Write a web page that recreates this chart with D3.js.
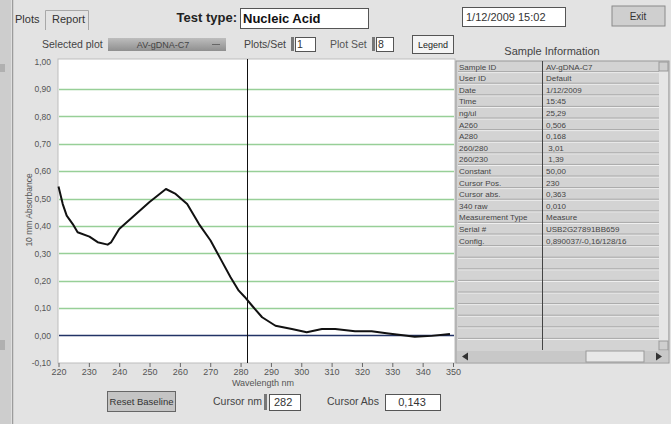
<!DOCTYPE html>
<html>
<head>
<meta charset="utf-8">
<script src="https://cdn.jsdelivr.net/npm/d3@7"></script>
<style>
  body { margin: 0; background: #e3e3e3; }
  svg { display: block; font-family: "Liberation Sans", Arial, sans-serif; }
</style>
</head>
<body>
<svg id="chart" width="671" height="424"></svg>
<script>
// spectrum
const wavelengths = [220, 221.4, 222.7, 224.7, 226.3, 230.2, 232.9, 236.2, 237.3, 240, 245, 249.9, 255.4, 258.6,
  262.4, 266.3, 270.1, 273.4, 276.7, 279.4, 281.3, 283.8, 287.1, 291.5, 296.9, 301.8, 306.8, 311.2, 317.7,
  323.2, 328.7, 334.2, 337.4, 342.9, 349];
const absorbance = [0.544, 0.48, 0.438, 0.407, 0.377, 0.361, 0.341, 0.332, 0.34, 0.389, 0.438, 0.487, 0.535, 0.517,
  0.48, 0.407, 0.347, 0.28, 0.213, 0.164, 0.142, 0.109, 0.067, 0.036, 0.024, 0.012, 0.024, 0.024, 0.016,
  0.016, 0.008, 0.0, -0.004, -0.001, 0.006];
const xTicks = [220, 230, 240, 250, 260, 270, 280, 290, 300, 310, 320, 330, 340, 350];
const yTicks = [-0.1, 0, 0.1, 0.2, 0.3, 0.4, 0.5, 0.6, 0.7, 0.8, 0.9, 1.0];
const cursorNm = 282;
const cursorAbs = "0,143";

const infoLabels = ["Sample ID", "User ID", "Date", "Time", "ng/ul", "A260", "A280", "260/280", "260/230",
  "Constant", "Cursor Pos.", "Cursor abs.", "340 raw", "Measurement Type", "Serial #", "Config."];
const infoValues = ["AV-gDNA-C7", "Default", "1/12/2009", "15:45", "25,29", "0,506", "0,168", " 3,01", " 1,39",
  "50,00", "230", "0,363", "0,010", "Measure", "USB2G27891BB659", "0,890037/-0,16/128/16"];

const svg = d3.select("#chart");
const txt = "#333";

// left strip of the window behind
svg.append("rect").attr("x", 0).attr("y", 0).attr("width", 11).attr("height", 424).attr("fill", "#cdcdcd");
svg.append("line").attr("x1", 11.5).attr("x2", 11.5).attr("y1", 0).attr("y2", 424).attr("stroke", "#f6f6f6");
svg.append("line").attr("x1", 12.5).attr("x2", 12.5).attr("y1", 0).attr("y2", 424).attr("stroke", "#9c9c9c").attr("stroke-width", 1.5);
svg.append("rect").attr("x", 0).attr("y", 64).attr("width", 5).attr("height", 8).attr("fill", "#b0b0b0");
svg.append("rect").attr("x", 0).attr("y", 340).attr("width", 5).attr("height", 10).attr("fill", "#b0b0b0");

// tabs
svg.append("text").attr("x", 15).attr("y", 23).attr("font-size", 11).attr("fill", txt).text("Plots");
svg.append("path").attr("d", "M45.5,30 V10.5 H88.5 V30").attr("fill", "none").attr("stroke", "#a8a8a8");
svg.append("text").attr("x", 52).attr("y", 23).attr("font-size", 11).attr("fill", txt).text("Report");

// header controls
function box(x, y, w, h, fill) {
  svg.append("rect").attr("x", x + 0.5).attr("y", y + 0.5).attr("width", w).attr("height", h)
    .attr("fill", fill || "#fff").attr("stroke", "#555");
}
svg.append("text").attr("x", 237).attr("y", 22).attr("text-anchor", "end").attr("font-size", 13)
  .attr("font-weight", "bold").attr("fill", "#222").text("Test type:");
box(240, 8, 128, 20);
svg.append("text").attr("x", 243).attr("y", 23).attr("font-size", 13).attr("font-weight", "bold").attr("fill", "#111").text("Nucleic Acid");
box(462, 7, 103, 19);
svg.append("text").attr("x", 466).attr("y", 21).attr("font-size", 11).attr("fill", txt).text("1/12/2009  15:02");
svg.append("rect").attr("x", 612).attr("y", 6).attr("width", 53).attr("height", 20).attr("fill", "#cfcfcf")
  .attr("stroke", "#8a8a8a");
svg.append("text").attr("x", 638).attr("y", 20).attr("text-anchor", "middle").attr("font-size", 10).attr("fill", txt).text("Exit");

svg.append("text").attr("x", 42).attr("y", 48).attr("font-size", 10.5).attr("fill", "#444").text("Selected plot");
const defs = svg.append("defs");
const g1 = defs.append("linearGradient").attr("id", "dd").attr("x1", 0).attr("x2", 0).attr("y1", 0).attr("y2", 1);
g1.append("stop").attr("offset", 0).attr("stop-color", "#bdbdbd");
g1.append("stop").attr("offset", 1).attr("stop-color", "#8f8f8f");
svg.append("rect").attr("x", 108).attr("y", 38).attr("width", 118).attr("height", 13).attr("fill", "url(#dd)");
svg.append("text").attr("x", 163).attr("y", 48).attr("text-anchor", "middle").attr("font-size", 9).attr("fill", "#444").text("AV-gDNA-C7");
svg.append("line").attr("x1", 212).attr("x2", 220).attr("y1", 44.5).attr("y2", 44.5).attr("stroke", "#666");

svg.append("text").attr("x", 244).attr("y", 48).attr("font-size", 10.5).attr("fill", "#444").text("Plots/Set");
svg.append("rect").attr("x", 291).attr("y", 37).attr("width", 3).attr("height", 14).attr("fill", "#777");
box(295, 37, 20, 14);
svg.append("text").attr("x", 297).attr("y", 48).attr("font-size", 10.5).attr("fill", txt).text("1");
svg.append("text").attr("x", 330).attr("y", 48).attr("font-size", 10.5).attr("fill", "#555").text("Plot Set");
svg.append("rect").attr("x", 372).attr("y", 37).attr("width", 3).attr("height", 14).attr("fill", "#777");
box(376, 37, 17, 14);
svg.append("text").attr("x", 378).attr("y", 48).attr("font-size", 10.5).attr("fill", txt).text("8");
svg.append("rect").attr("x", 412.5).attr("y", 35.5).attr("width", 41).attr("height", 18).attr("fill", "#f4f4f4").attr("stroke", "#555");
svg.append("text").attr("x", 433).attr("y", 48).attr("text-anchor", "middle").attr("font-size", 9).attr("fill", "#222").text("Legend");

// plot
const x = d3.scaleLinear().domain([220, 350]).range([58.5, 453]);
const y = d3.scaleLinear().domain([-0.1, 1.0]).range([363, 61.6]);

svg.append("rect").attr("x", 58).attr("y", 59).attr("width", 397).attr("height", 304)
  .attr("fill", "#fff").attr("stroke", "#bdbdbd");

svg.append("g").selectAll("line").data(yTicks.filter(v => v > 0.05 && v < 0.95)).join("line")
  .attr("x1", 59).attr("x2", 454).attr("y1", d => Math.round(y(d)) + 0.5).attr("y2", d => Math.round(y(d)) + 0.5)
  .attr("stroke", "#97cf97").attr("stroke-width", 1.5);
svg.append("line").attr("x1", 59).attr("x2", 454).attr("y1", y(0)).attr("y2", y(0))
  .attr("stroke", "#223366").attr("stroke-width", 1.5);

const fmt = v => d3.format(".2f")(v).replace(".", ",").replace("−", "-");
const yAxis = svg.append("g").attr("transform", "translate(58,0)")
  .call(d3.axisLeft(y).tickValues(yTicks).tickSize(0).tickPadding(7).tickFormat(fmt));
yAxis.select(".domain").remove();
yAxis.selectAll("text").attr("font-size", 8.5).attr("fill", "#555").attr("font-family", "Liberation Sans, Arial");

const xAxis = svg.append("g").attr("transform", "translate(0,363)")
  .call(d3.axisBottom(x).tickValues(xTicks).tickSize(4).tickPadding(2).tickFormat(d3.format("d")));
xAxis.select(".domain").remove();
xAxis.selectAll("line").attr("stroke", "#666");
xAxis.selectAll("text").attr("font-size", 9).attr("fill", "#555").attr("font-family", "Liberation Sans, Arial");

svg.append("text").attr("transform", "translate(32,210) rotate(-90)").attr("text-anchor", "middle")
  .attr("font-size", 8.5).attr("fill", "#555").text("10 mm Absorbance");
svg.append("text").attr("x", 263).attr("y", 386).attr("text-anchor", "middle")
  .attr("font-size", 9).attr("fill", "#555").text("Wavelength nm");

const line = d3.line().x((d, i) => x(wavelengths[i])).y(d => y(d));
svg.append("path").datum(absorbance).attr("d", line).attr("fill", "none")
  .attr("stroke", "#111").attr("stroke-width", 2).attr("stroke-linejoin", "round");

svg.append("line").attr("x1", Math.round(x(cursorNm)) + 0.5).attr("x2", Math.round(x(cursorNm)) + 0.5)
  .attr("y1", 59).attr("y2", 363).attr("stroke", "#111");

// bottom controls
svg.append("rect").attr("x", 107.5).attr("y", 391.5).attr("width", 68).attr("height", 20)
  .attr("fill", "#c4c4c4").attr("stroke", "#666");
svg.append("text").attr("x", 141.5).attr("y", 405).attr("text-anchor", "middle").attr("font-size", 9.5)
  .attr("fill", "#333").text("Reset Baseline");
svg.append("text").attr("x", 213).attr("y", 405).attr("font-size", 10.5).attr("fill", "#444").text("Cursor nm");
svg.append("rect").attr("x", 264).attr("y", 394).attr("width", 3).attr("height", 16).attr("fill", "#777");
box(269, 394, 31, 16);
svg.append("text").attr("x", 274).attr("y", 406).attr("font-size", 11).attr("fill", txt).text(cursorNm);
svg.append("text").attr("x", 327).attr("y", 405).attr("font-size", 10.5).attr("fill", "#444").text("Cursor Abs");
box(385, 394, 55, 16);
svg.append("text").attr("x", 412).attr("y", 406).attr("text-anchor", "middle").attr("font-size", 11).attr("fill", txt).text(cursorAbs);

// sample information table
svg.append("text").attr("x", 552).attr("y", 55).attr("text-anchor", "middle").attr("font-size", 11)
  .attr("fill", "#444").text("Sample Information");
const tx = 456, tw = 213, ty = 61, th = 302, rowH = 11.6;
svg.append("rect").attr("x", tx).attr("y", ty).attr("width", tw).attr("height", th).attr("fill", "#d3d3d3")
  .attr("stroke", "#9a9a9a");
const nRows = Math.floor((th - 14) / rowH);
svg.append("g").selectAll("line").data(d3.range(1, nRows + 1)).join("line")
  .attr("x1", tx + 2).attr("x2", 659).attr("y1", i => ty + i * rowH).attr("y2", i => ty + i * rowH)
  .attr("stroke", "#f2f2f2");
svg.append("g").selectAll("line").data(d3.range(1, nRows + 1)).join("line")
  .attr("x1", tx + 2).attr("x2", 659).attr("y1", i => ty + i * rowH - 1).attr("y2", i => ty + i * rowH - 1)
  .attr("stroke", "#a8a8a8");
svg.append("line").attr("x1", 542.5).attr("x2", 542.5).attr("y1", ty).attr("y2", 350).attr("stroke", "#444");
svg.append("g").selectAll("text").data(infoLabels).join("text")
  .attr("x", tx + 3).attr("y", (d, i) => ty + i * rowH + 8.5).attr("font-size", 8).attr("fill", "#444").text(d => d);
svg.append("g").selectAll("text").data(infoValues).join("text")
  .attr("x", 546).attr("y", (d, i) => ty + i * rowH + 8.5).attr("font-size", 8).attr("fill", "#444")
  .attr("xml:space", "preserve").text(d => d);
// scrollbars
svg.append("rect").attr("x", 659).attr("y", ty + 1).attr("width", 9).attr("height", th - 2).attr("fill", "#e6e6e6");
svg.append("rect").attr("x", 659).attr("y", ty + 1).attr("width", 9).attr("height", 9).attr("fill", "#cfcfcf").attr("stroke", "#999");
svg.append("rect").attr("x", 659).attr("y", 341).attr("width", 9).attr("height", 9).attr("fill", "#cfcfcf").attr("stroke", "#999");
svg.append("rect").attr("x", tx + 1).attr("y", 351).attr("width", tw - 2).attr("height", 11).attr("fill", "#c8c8c8");
svg.append("rect").attr("x", 586).attr("y", 351).attr("width", 58).attr("height", 11).attr("fill", "#e8e8e8").attr("stroke", "#999");
svg.append("path").attr("d", "M462,356.5 l6,-4 v8 z").attr("fill", "#333");
svg.append("path").attr("d", "M662,356.5 l-6,-4 v8 z").attr("fill", "#333");
</script>
</body>
</html>
